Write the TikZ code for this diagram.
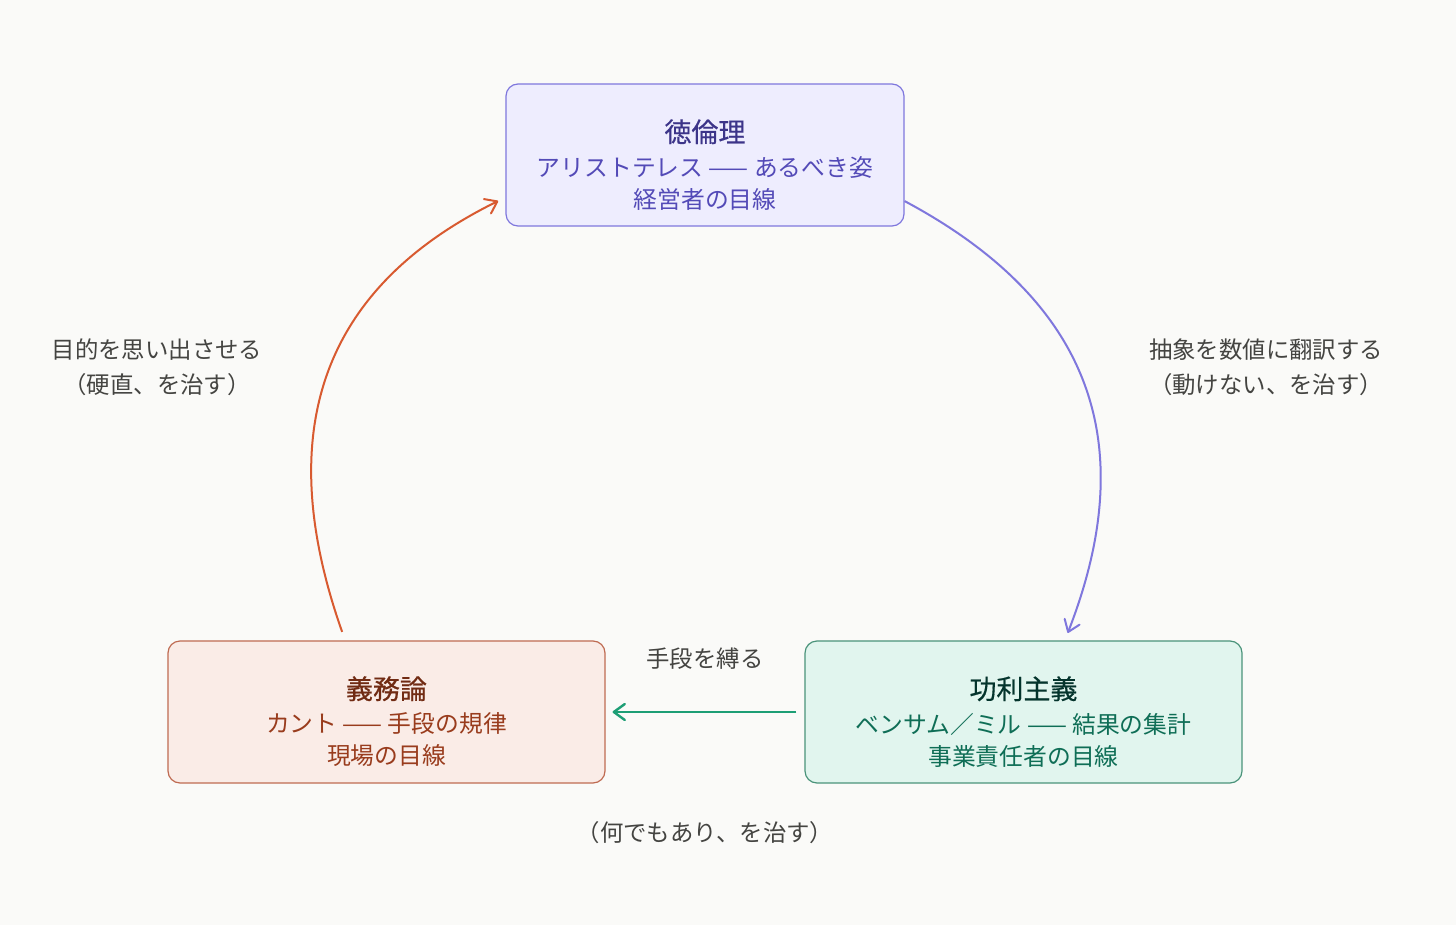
\documentclass[tikz,border=0pt]{standalone}
\usepackage{fontspec}
\setmainfont{Noto Sans CJK JP}
\newfontfamily\headfont[FakeBold=0.5]{Noto Sans CJK JP}
\usetikzlibrary{arrows.meta}
\usetikzlibrary{positioning}
\definecolor{paper}{HTML}{FAFAF8}
\definecolor{inkgray}{HTML}{444441}
\definecolor{virtuefill}{HTML}{EEEDFE}
\definecolor{virtueline}{HTML}{7F77DD}
\definecolor{virtuehead}{HTML}{3C3489}
\definecolor{virtuetext}{HTML}{534AB7}
\definecolor{dutyfill}{HTML}{FAECE7}
\definecolor{dutyline}{HTML}{BF6B52}
\definecolor{dutyhead}{HTML}{712B13}
\definecolor{dutytext}{HTML}{993C1D}
\definecolor{utilfill}{HTML}{E1F5EE}
\definecolor{utilline}{HTML}{4A937A}
\definecolor{utilhead}{HTML}{04342C}
\definecolor{utiltext}{HTML}{0F6E56}
\definecolor{virtuearrow}{HTML}{7F77DD}
\definecolor{dutyarrow}{HTML}{D85A30}
\definecolor{utilarrow}{HTML}{1D9E75}
\newcommand\topstrut{\rule{0pt}{21pt}}
\newcommand\boxtitle[1]{{\headfont\fontsize{13.5pt}{18pt}\selectfont#1}}
\tikzset{
    ethic/.style={
           rectangle,
           rounded corners=6pt,
           line width=0.6pt,
           minimum height=71pt,
           inner sep=2pt,
           align=center,
           font=\fontsize{11.9pt}{16pt}\selectfont,
           },
    note/.style={
           align=center,
           text=inkgray,
           font=\fontsize{11.7pt}{17.5pt}\selectfont,
           },
}

\begin{document}
\begin{tikzpicture}[x=0.5pt,y=-0.5pt,->,>={Straight Barb[length=5.5pt,width=8pt,round]}]

 % canvas, fixes the margins
 \fill[paper] (0,0) rectangle (1456,925);

 % Virtue ethics on top
 \node[ethic, fill=virtuefill, draw=virtueline, text=virtuetext,
  minimum width=199pt] (virtue) at (705,155)
 {\topstrut\textcolor{virtuehead}{\boxtitle{徳倫理}}\\[1pt]
  アリストテレス —— あるべき姿\\
  経営者の目線};

 % Deontology, lower left
 \node[ethic, fill=dutyfill, draw=dutyline, text=dutytext,
  minimum width=218.5pt,
  node distance=278.5pt,
  below of=virtue,
  xshift=-159.25pt,
  anchor=center] (duty)
 {\topstrut\textcolor{dutyhead}{\boxtitle{義務論}}\\[1pt]
  カント —— 手段の規律\\
  現場の目線};

 % Utilitarianism, lower right
 \node[ethic, fill=utilfill, draw=utilline, text=utiltext,
  minimum width=218.5pt,
  node distance=278.5pt,
  below of=virtue,
  xshift=159.25pt,
  anchor=center] (util)
 {\topstrut\textcolor{utilhead}{\boxtitle{功利主義}}\\[1pt]
  ベンサム／ミル —— 結果の集計\\
  事業責任者の目線};

 % the three corrections
 \draw[virtuearrow, line width=1pt, shorten >=4pt]
  (virtue.-13.5) .. controls +(189,101) and +(76,-195) .. (util.60);
 \draw[utilarrow, line width=1.2pt, shorten <=4pt, shorten >=3.5pt]
  (util.west) -- (duty.east);
 \draw[dutyarrow, line width=1pt, shorten <=4.5pt, shorten >=4pt]
  (duty.120) .. controls +(-70,-198) and +(-193,95) .. (virtue.192.5);

 % labels next to the arrows
 \node[note] (remind) at (157,367) {目的を思い出させる\\（硬直、を治す）};
 \node[note] (translate) at (1266,367) {抽象を数値に翻訳する\\（動けない、を治す）};
 \node[note] (bind) at (705,659) {手段を縛る};
 \node[note] (anything) at (705,833) {（何でもあり、を治す）};

\end{tikzpicture}
\end{document}
